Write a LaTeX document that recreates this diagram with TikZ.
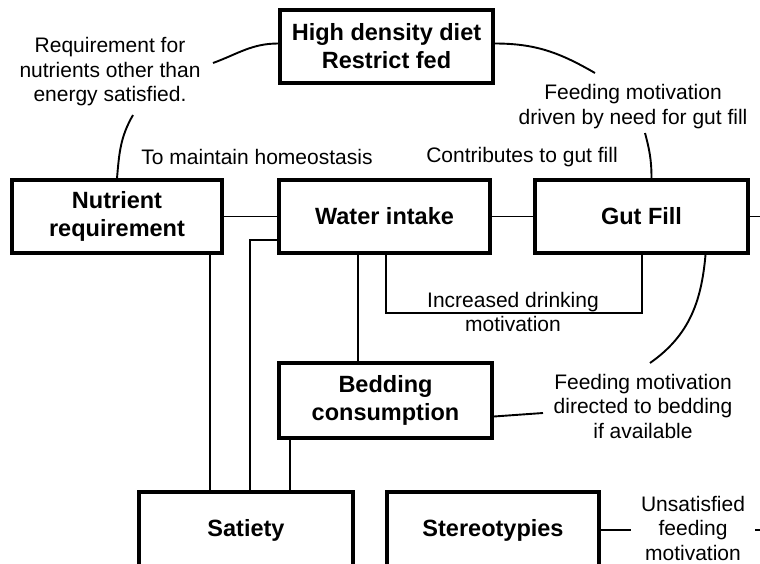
\documentclass[tikz,border=0pt]{standalone}
\usepackage{fontspec}
\setmainfont{Liberation Sans}
\usepackage{tkz-euclide}
\tikzset{
  box/.style={draw,line width=3.6pt,minimum width=213pt,minimum height=73pt,inner sep=0pt,align=center,font=\fontsize{23.5}{28}\selectfont\bfseries},
  note/.style={align=center,inner sep=0pt,font=\fontsize{21}{24.5}\selectfont},
  link/.style={line width=1.9pt},
  thin link/.style={line width=1.4pt}
}
\begin{document}
\begin{tikzpicture}[x=1pt,y=-1pt]
                    \clip (0,0) rectangle (760,563);
                    \node[box] (diet) at (386.5,46.5) {High density diet\\Restrict fed};
                    \node[box,minimum width=210pt] (nutr) at (117,216.5) {Nutrient\\requirement};
                    \node[box,minimum width=211pt] (water) at (384.5,216.5) {Water intake};
                    \node[box] (gut) at (641.5,216.5) {Gut Fill};
                    \node[box,minimum height=75pt] (bed) at (385.5,400.5) {Bedding\\consumption};
                    \node[box,minimum width=214pt,minimum height=76pt] (sat) at (246,530) {Satiety};
                    \node[box,minimum width=212pt,minimum height=76pt] (ster) at (493,530) {Stereotypies};
                    \node[note] (req) at (110,72) {Requirement for\\nutrients other than\\energy satisfied.};
                    \node[note] (need) at (633,106.5) {Feeding motivation\\driven by need for gut fill};
                    \node[note] (homeo) at (257,157) {To maintain homeostasis};
                    \node[note] (contrib) at (522,157) {Contributes to gut fill};
                    \node[note] (drink) at (513,312) {Increased drinking\\motivation};
                    \node[note] (bedding) at (643,406) {Feeding motivation\\directed to bedding\\if available};
                    \node[note,inner xsep=10pt] (unsat) at (693,528) {Unsatisfied\\feeding\\motivation};
                    \tkzDefPoints{133/115/R,213/63/S,595/73/T,645/133/U,650/363/V,543/413/W,760/216.5/G,760/530/H}
                    \tkzDefPoints{210/0/A,250/240/B,290/0/C,358/0/D,386/313/E,642/313/F}
                    \draw[link] (nutr) -- (water) -- (gut) -- (G);
                    \draw[link] (nutr.south -| A) -- (sat.north -| A);
                    \draw[link] (water.west |- B) -- (B) -- (B |- sat.north);
                    \draw[link] (bed.south -| C) -- (sat.north -| C);
                    \draw[link] (water.south -| D) -- (bed.north -| D);
                    \draw[thin link] (water.south -| E) -- (E) -- (F) -- (gut.south -| F);
                    \draw[link] (ster) -- (ster -| unsat.west) (ster -| unsat.east) -- (H);
                    \draw[link] (nutr.north) to[out=85,in=-120] (R);
                    \draw[link] (S) to[out=20,in=180] ([yshift=3pt]diet.west);
                    \draw[link] ([yshift=3pt]diet.east) to[out=0,in=150] (T);
                    \draw[link] (U) to[out=-75,in=90] ([xshift=10pt]gut.north);
                    \draw[link] ([xshift=64pt]gut.south) to[out=-95,in=35] (V);
                    \draw[link] ([yshift=-16pt]bed.east) -- (W);
                \end{tikzpicture}
\end{document}
